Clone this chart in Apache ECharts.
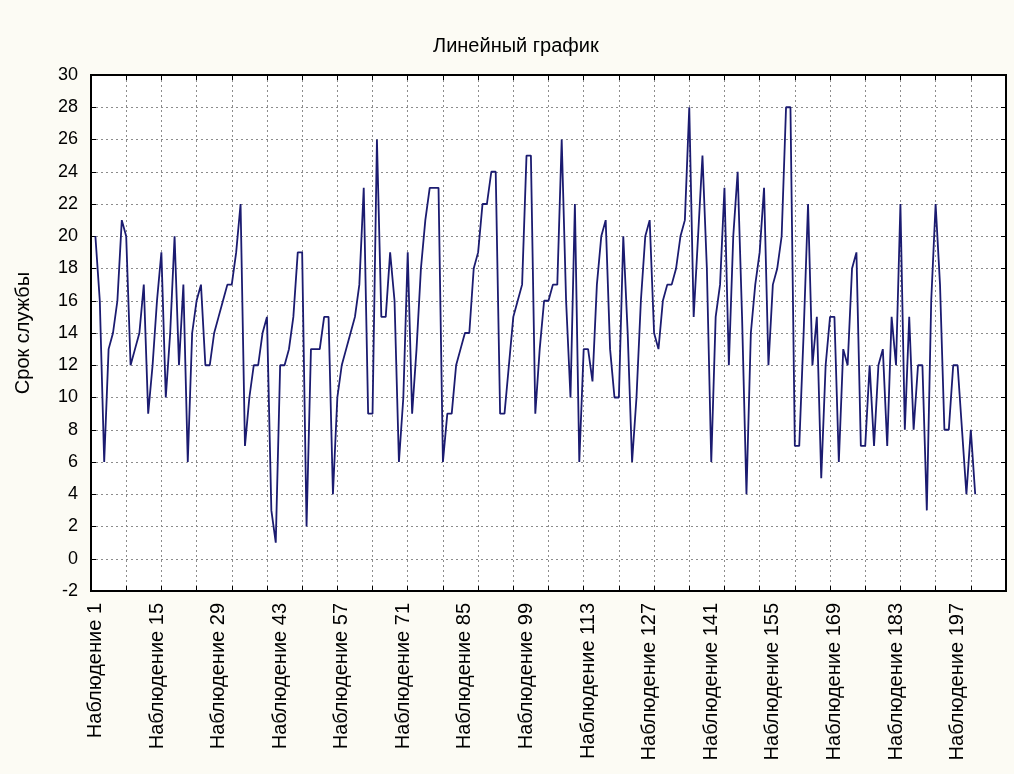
<!DOCTYPE html>
<html>
<head>
<meta charset="utf-8">
<title>Линейный график</title>
<script src="https://cdn.jsdelivr.net/npm/echarts@6/dist/echarts.min.js"></script>
<style>
  html, body { margin: 0; padding: 0; background: #fcfbf4; }
  #chart { width: 1014px; height: 774px; }
</style>
</head>
<body>
<div id="chart"></div>
<script>
// Срок службы по наблюдениям 1..201
const lifetimes = [
  20, 16, 6, 13, 14, 16, 21, 20, 12, 13,
  14, 17, 9, 12, 16, 19, 10, 14, 20, 12,
  17, 6, 14, 16, 17, 12, 12, 14, 15, 16,
  17, 17, 19, 22, 7, 10, 12, 12, 14, 15,
  3, 1, 12, 12, 13, 15, 19, 19, 2, 13,
  13, 13, 15, 15, 4, 10, 12, 13, 14, 15,
  17, 23, 9, 9, 26, 15, 15, 19, 16, 6,
  10, 19, 9, 13, 18, 21, 23, 23, 23, 6,
  9, 9, 12, 13, 14, 14, 18, 19, 22, 22,
  24, 24, 9, 9, 12, 15, 16, 17, 25, 25,
  9, 13, 16, 16, 17, 17, 26, 16, 10, 22,
  6, 13, 13, 11, 17, 20, 21, 13, 10, 10,
  20, 14, 6, 10, 16, 20, 21, 14, 13, 16,
  17, 17, 18, 20, 21, 28, 15, 20, 25, 18,
  6, 15, 17, 23, 12, 20, 24, 15, 4, 14,
  17, 19, 23, 12, 17, 18, 20, 28, 28, 7,
  7, 14, 22, 12, 15, 5, 12, 15, 15, 6,
  13, 12, 18, 19, 7, 7, 12, 7, 12, 13,
  7, 15, 12, 22, 8, 15, 8, 12, 12, 3,
  16, 22, 17, 8, 8, 12, 12, 8, 4, 8,
  4
];

// Подписанные наблюдения на оси X
const labelledObs = [1, 15, 29, 43, 57, 71, 85, 99, 113, 127, 141, 155, 169, 183, 197];
// Деления сетки по оси X
const xGridTicks = [0, 8, 16, 24, 32, 40, 48, 56, 64, 72, 80, 88, 96, 104, 112, 120, 128, 136, 144, 152, 160, 168, 176, 184, 192, 200, 208];
const xRange = [0, 208];
const yRange = [-2, 30];
const yStep = 2;

const FONT = '"Liberation Sans", Arial, sans-serif';
const gridDots = { type: [2, 3], color: '#8c8c8c', width: 1 };
const frameLine = { color: '#000', width: 2 };
const innerTick = { show: true, inside: true, length: 5, lineStyle: { color: '#000', width: 1 } };

const chart = echarts.init(document.getElementById('chart'), null, { renderer: 'canvas' });

chart.setOption({
  backgroundColor: '#fcfbf4',
  animation: false,
  title: {
    text: 'Линейный график',
    left: 428,
    top: 31,
    textStyle: { fontFamily: FONT, fontSize: 20, fontWeight: 'normal', color: '#000' }
  },
  grid: {
    left: 91, right: 8, top: 75, bottom: 183,
    show: true,
    backgroundColor: '#ffffff',
    borderColor: '#000',
    borderWidth: 2
  },
  xAxis: [
    {
      type: 'value', position: 'bottom',
      min: xRange[0], max: xRange[1], interval: 8,
      axisLine: { show: true, onZero: false, lineStyle: frameLine },
      axisTick: Object.assign({ customValues: xGridTicks }, innerTick),
      splitLine: { show: true, lineStyle: gridDots },
      axisLabel: {
        show: true,
        customValues: labelledObs,
        rotate: 90,
        margin: 12,
        fontFamily: FONT, fontSize: 20, color: '#000',
        formatter: function (v) { return 'Наблюдение ' + v; }
      }
    },
    {
      type: 'value', position: 'top',
      min: xRange[0], max: xRange[1], interval: 8,
      axisLine: { show: true, onZero: false, lineStyle: frameLine },
      axisTick: Object.assign({ customValues: xGridTicks }, innerTick),
      splitLine: { show: false },
      axisLabel: { show: false }
    }
  ],
  yAxis: [
    {
      type: 'value', position: 'left',
      min: yRange[0], max: yRange[1], interval: yStep,
      name: 'Срок службы',
      nameLocation: 'middle',
      nameGap: 58,
      nameRotate: 90,
      nameTextStyle: { fontFamily: FONT, fontSize: 20, color: '#000' },
      axisLine: { show: true, onZero: false, lineStyle: frameLine },
      axisTick: innerTick,
      splitLine: { show: true, lineStyle: gridDots },
      axisLabel: { margin: 13, fontFamily: FONT, fontSize: 18, color: '#000' }
    },
    {
      type: 'value', position: 'right',
      min: yRange[0], max: yRange[1], interval: yStep,
      axisLine: { show: true, onZero: false, lineStyle: frameLine },
      axisTick: innerTick,
      splitLine: { show: false },
      axisLabel: { show: false }
    }
  ],
  series: [
    {
      type: 'line',
      xAxisIndex: 0,
      yAxisIndex: 0,
      data: lifetimes.map(function (v, i) { return [i + 1, v]; }),
      showSymbol: false,
      symbol: 'none',
      lineStyle: { color: '#1b1b70', width: 1.8 }
    }
  ]
});
</script>
</body>
</html>
